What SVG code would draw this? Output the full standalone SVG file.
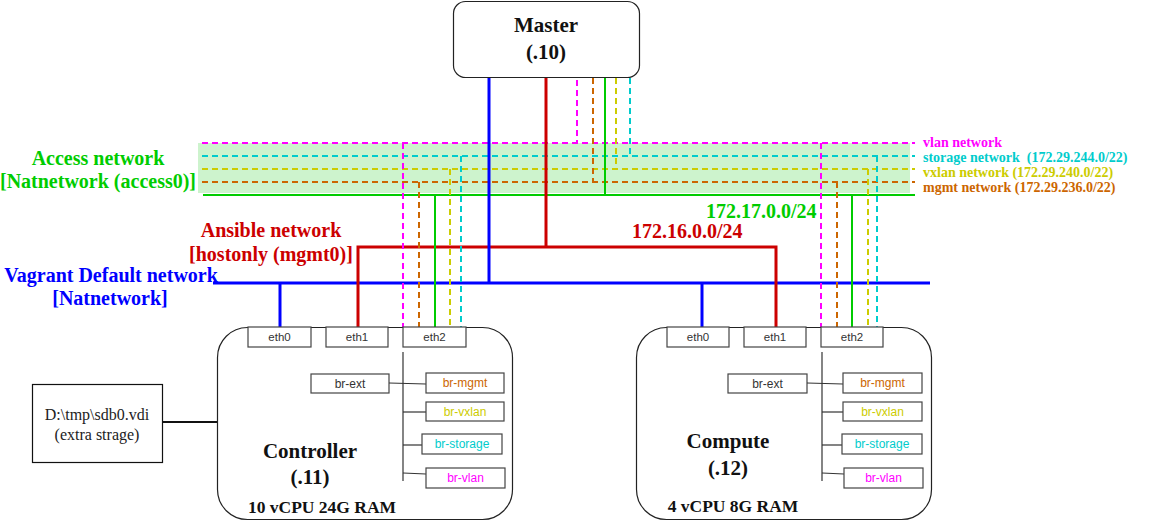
<svg xmlns="http://www.w3.org/2000/svg" width="1163" height="528" viewBox="0 0 1163 528">
<style>
.bg{fill:#ffffff}
.node{fill:#ffffff;stroke:#222;stroke-width:1.2}
.box{fill:#ffffff;stroke:#444;stroke-width:1.2}
.title{font-family:"Liberation Serif",serif;font-weight:bold;font-size:21px;fill:#111;text-anchor:middle}
.spec{font-family:"Liberation Serif",serif;font-weight:bold;font-size:17.5px;fill:#111;text-anchor:middle}
.net{font-family:"Liberation Serif",serif;font-weight:bold;font-size:20px;text-anchor:middle}
.leg{font-family:"Liberation Serif",serif;font-weight:bold;font-size:14px;white-space:pre}
.lbl{font-family:"Liberation Sans",Arial,sans-serif;font-size:11.5px;fill:#333;text-anchor:middle}
.br{font-family:"Liberation Sans",Arial,sans-serif;font-size:12px;text-anchor:middle}
.plain{font-family:"Liberation Serif",serif;font-size:16px;fill:#222;text-anchor:middle}
.d{fill:none;stroke-width:2;stroke-dasharray:6 4}
.s{fill:none;stroke-width:2}
.mag{stroke:#FF00FF}.cya{stroke:#00CCCC}.yel{stroke:#CCCC00}.ora{stroke:#CC6600}
.grn{stroke:#00CC00}.red{stroke:#CC0000;stroke-width:3}.blu{stroke:#0000FF;stroke-width:3}
.thin{fill:none;stroke:#333;stroke-width:1.2}
</style>
<rect class="bg" x="0" y="0" width="1163" height="528"/>

<g id="access-band">
<rect x="198" y="143" width="712" height="50" fill="#CDF3CD"/>
</g>

<g id="connectors">
<!-- access network lines -->
<line class="d mag" x1="202" y1="143" x2="915" y2="143"/>
<line class="d cya" x1="202" y1="156" x2="915" y2="156"/>
<line class="d yel" x1="202" y1="169" x2="915" y2="169"/>
<line class="d ora" x1="202" y1="182" x2="915" y2="182"/>
<line class="s grn" x1="203" y1="195" x2="915" y2="195"/>
<!-- vagrant default -->
<line class="s blu" x1="213" y1="283" x2="930" y2="283"/>
<!-- ansible -->
<polyline class="s red" points="358,328 358,247 776,247 776,328"/>
<line class="s red" x1="546" y1="78" x2="546" y2="247"/>
<!-- master drops -->
<line class="s blu" x1="489" y1="78" x2="489" y2="283"/>
<line class="d mag" x1="577" y1="80" x2="577" y2="143"/>
<line class="d ora" x1="593" y1="78" x2="593" y2="182"/>
<line class="s grn" x1="605" y1="78" x2="605" y2="195"/>
<line class="d yel" x1="616" y1="78" x2="616" y2="169"/>
<line class="d cya" x1="630" y1="78" x2="630" y2="156"/>
<!-- controller drops -->
<line class="s blu" x1="280" y1="283" x2="280" y2="327"/>
<line class="d mag" x1="403" y1="143" x2="403" y2="327"/>
<line class="d ora" x1="419" y1="182" x2="419" y2="327"/>
<line class="s grn" x1="435" y1="195" x2="435" y2="327"/>
<line class="d yel" x1="450" y1="169" x2="450" y2="327"/>
<line class="d cya" x1="461" y1="156" x2="461" y2="327"/>
<!-- compute drops -->
<line class="s blu" x1="702" y1="283" x2="702" y2="327"/>
<line class="d mag" x1="821" y1="143" x2="821" y2="327"/>
<line class="d ora" x1="837" y1="182" x2="837" y2="327"/>
<line class="s grn" x1="852" y1="195" x2="852" y2="327"/>
<line class="d yel" x1="868" y1="169" x2="868" y2="327"/>
<line class="d cya" x1="877" y1="156" x2="877" y2="327"/>
<!-- storage link -->
<line x1="163" y1="422" x2="218" y2="422" stroke="#111" stroke-width="2"/>
</g>

<g id="network-labels">
<text class="net" x="98" y="165" fill="#00CC00">Access network</text>
<text class="net" x="98" y="188" fill="#00CC00">[Natnetwork (access0)]</text>
<text class="net" x="271" y="237" fill="#CC0000">Ansible network</text>
<text class="net" x="271" y="261" fill="#CC0000">[hostonly (mgmt0)]</text>
<text class="net" x="111" y="282" fill="#0000FF">Vagrant Default network</text>
<text class="net" x="110" y="305" fill="#0000FF">[Natnetwork]</text>
<text class="net" x="706" y="218" fill="#00CC00" style="text-anchor:start">172.17.0.0/24</text>
<text class="net" x="632" y="238" fill="#CC0000" style="text-anchor:start">172.16.0.0/24</text>
</g>

<g id="legend">
<text class="leg" x="923" y="147" fill="#FF00FF">vlan network</text>
<text class="leg" x="923" y="162" fill="#00CCCC">storage network  (172.29.244.0/22)</text>
<text class="leg" x="923" y="177" fill="#CCCC00">vxlan network (172.29.240.0/22)</text>
<text class="leg" x="923" y="192" fill="#CC6600">mgmt network (172.29.236.0/22)</text>
</g>

<g id="master">
<rect class="node" x="453.5" y="1.5" width="186" height="76" rx="12"/>
<text class="title" x="546" y="32">Master</text>
<text class="title" x="546" y="59">(.10)</text>
</g>

<g id="controller">
<rect class="node" x="217.5" y="327.5" width="295" height="192" rx="30"/>
<rect class="box" x="248" y="327" width="63" height="20"/>
<text class="lbl" x="279.5" y="341">eth0</text>
<rect class="box" x="326" y="327" width="62" height="20"/>
<text class="lbl" x="357" y="341">eth1</text>
<rect class="box" x="403" y="327" width="63" height="20"/>
<text class="lbl" x="434.5" y="341">eth2</text>
<line class="thin" x1="403" y1="352" x2="403" y2="481"/>
<rect class="box" x="311" y="374" width="78" height="19"/>
<text class="br" x="350" y="388" fill="#333">br-ext</text>
<line class="thin" x1="389" y1="383" x2="426" y2="384"/>
<rect class="box" x="426" y="373" width="78" height="20"/>
<text class="br" x="465" y="387" fill="#CC6600">br-mgmt</text>
<line class="thin" x1="403" y1="412" x2="426" y2="412"/>
<rect class="box" x="426" y="402" width="78" height="19"/>
<text class="br" x="465" y="416" fill="#CCCC00">br-vxlan</text>
<line class="thin" x1="403" y1="445" x2="422" y2="445"/>
<rect class="box" x="422" y="434" width="80" height="20"/>
<text class="br" x="462" y="448" fill="#00CCCC">br-storage</text>
<line class="thin" x1="403" y1="473" x2="426" y2="474"/>
<rect class="box" x="426" y="468" width="79" height="20"/>
<text class="br" x="465.5" y="482" fill="#FF00FF">br-vlan</text>
<text class="title" x="310" y="458">Controller</text>
<text class="title" x="310" y="484">(.11)</text>
<text class="spec" x="322" y="513">10 vCPU 24G RAM</text>
</g>

<g id="compute">
<rect class="node" x="636.5" y="327.5" width="295" height="192" rx="30"/>
<rect class="box" x="667" y="327" width="62" height="20"/>
<text class="lbl" x="698" y="341">eth0</text>
<rect class="box" x="744" y="327" width="62" height="20"/>
<text class="lbl" x="775" y="341">eth1</text>
<rect class="box" x="821" y="327" width="62" height="20"/>
<text class="lbl" x="852" y="341">eth2</text>
<line class="thin" x1="822" y1="352" x2="822" y2="481"/>
<rect class="box" x="728" y="374" width="79" height="19"/>
<text class="br" x="767.5" y="388" fill="#333">br-ext</text>
<line class="thin" x1="807" y1="383" x2="843" y2="384"/>
<rect class="box" x="843" y="373" width="79" height="20"/>
<text class="br" x="882.5" y="387" fill="#CC6600">br-mgmt</text>
<line class="thin" x1="822" y1="412" x2="843" y2="412"/>
<rect class="box" x="843" y="402" width="79" height="19"/>
<text class="br" x="882.5" y="416" fill="#CCCC00">br-vxlan</text>
<line class="thin" x1="822" y1="445" x2="842" y2="445"/>
<rect class="box" x="842" y="434" width="80" height="20"/>
<text class="br" x="882" y="448" fill="#00CCCC">br-storage</text>
<line class="thin" x1="822" y1="473" x2="844" y2="474"/>
<rect class="box" x="844" y="468" width="79" height="20"/>
<text class="br" x="883.5" y="482" fill="#FF00FF">br-vlan</text>
<text class="title" x="728" y="448">Compute</text>
<text class="title" x="728" y="475">(.12)</text>
<text class="spec" x="733" y="512">4 vCPU 8G RAM</text>
</g>

<g id="extra-storage">
<rect x="32.5" y="384.5" width="130" height="78" fill="#ffffff" stroke="#111" stroke-width="1.2"/>
<text class="plain" x="97" y="420">D:\tmp\sdb0.vdi</text>
<text class="plain" x="97" y="440">(extra strage)</text>
</g>
</svg>
